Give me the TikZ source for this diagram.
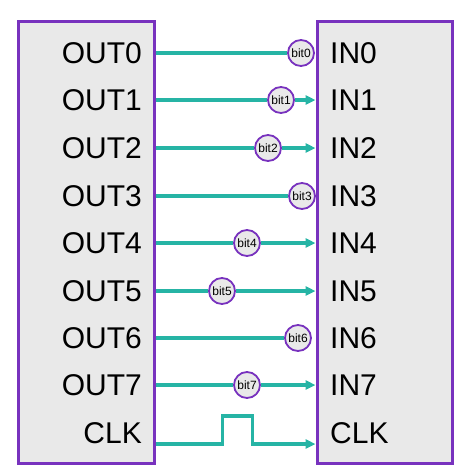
\documentclass[tikz,border=0pt]{standalone}
\usepackage{fontspec}
\setmainfont{Liberation Sans}
\usetikzlibrary{arrows.meta,positioning,calc}

\definecolor{chipline}{RGB}{120,50,190}
\definecolor{wirecol}{RGB}{38,180,165}
\definecolor{chipfill}{RGB}{233,233,233}

\begin{document}
\begin{tikzpicture}[
    x=1pt, y=-1pt,
    chip/.style={rectangle, draw=chipline, fill=chipfill, line width=3pt, minimum height=442pt, inner sep=0pt},
    pin/.style={font=\fontsize{30}{30}\selectfont, inner sep=0pt},
    bitcirc/.style={circle, draw=chipline, fill=chipfill, line width=1.8pt, minimum size=26pt, inner sep=0pt, font=\fontsize{12}{12}\selectfont},
    wire/.style={draw=wirecol, line width=3.2pt},
    arrow/.style={wire, -{Triangle[length=10pt, width=9pt]}}
]
\useasboundingbox (0,0) rectangle (474,472);

% the two chips
\node[chip, minimum width=136pt] (tx) at (86,242) {};
\node[chip, minimum width=135pt] (rx) at (384.5,242) {};

% data lines with their bit markers
\foreach \i/\y/\bx in {0/53/301, 1/100/281, 2/148/268, 3/196/302, 4/243/247, 5/291/222, 6/338/298, 7/385/247}{
  \node[pin, anchor=east] (o\i) at (142,\y) {OUT\i};
  \node[pin, anchor=west] (i\i) at (330,\y) {IN\i};
  \coordinate (s\i) at (tx.east |- o\i);
  \coordinate (e\i) at (rx.west |- i\i);
  \node[bitcirc] (b\i) at (\bx,\y) {bit\i};
  \draw[wire] (s\i) -- (b\i);
}
\foreach \i in {1,2,4,5,7}
  \draw[arrow] (b\i) -- (e\i);

% clock
\node[pin, anchor=east] (oclk) at (142,433) {CLK};
\node[pin, anchor=west] (iclk) at (330,433) {CLK};
\coordinate (sclk) at (tx.east |- 0,444);
\coordinate (eclk) at (rx.west |- 0,444);
\draw[arrow] (sclk) -- ++(67,0) -- ++(0,-28) -- ++(30,0) -- ++(0,28) -- (eclk);
\end{tikzpicture}
\end{document}
